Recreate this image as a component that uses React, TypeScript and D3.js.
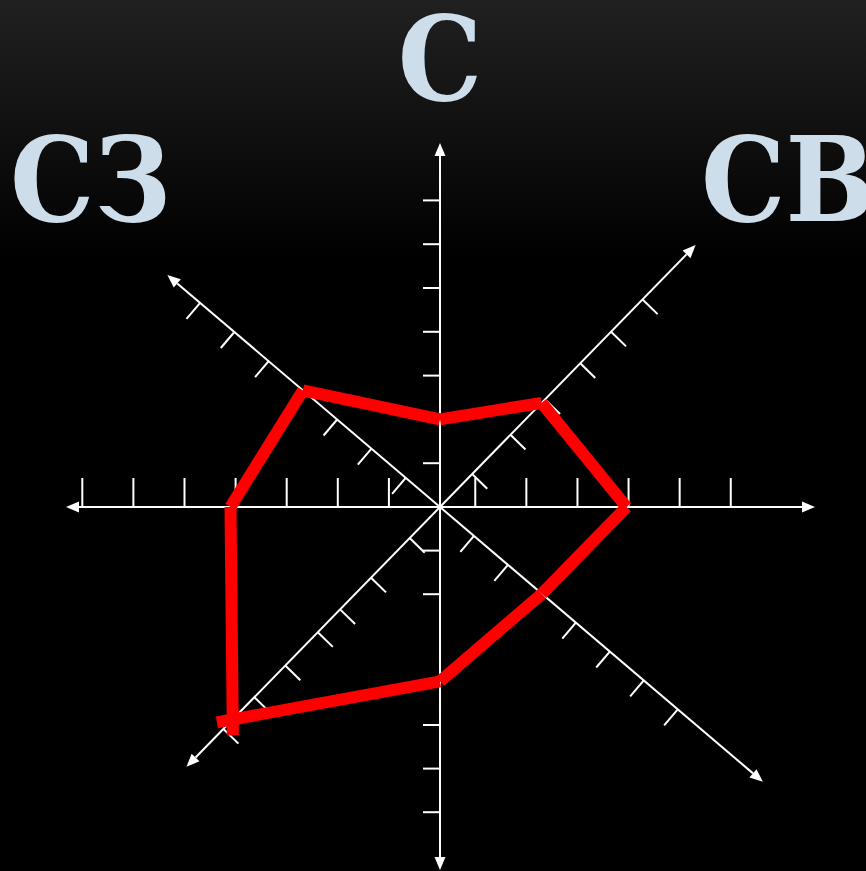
import React from 'react';
import * as d3 from 'd3';

// wind rose: 8 directions, clockwise from north
const directions = ['С', 'СВ', 'В', 'ЮВ', 'Ю', 'ЮЗ', 'З', 'СЗ'];
const angles = [0, 44.3, 90, 130.4, 180, 224.3, 270, 310.4];
const values = [2, 3, 3.65, 3, 4, 6.7, 4.1, 4];

// tick marks on every half-axis (in divisions)
const ticksN = [1, 2, 3, 4, 5, 6, 7];
const ticksNE = [0.95, 2.08, 3.1, 4.14, 5.05, 5.98];
const ticksE = [0.69, 1.69, 2.69, 3.69, 4.69, 5.69];
const ticksSE = [1, 2, 3, 4, 5, 6, 7];
const ticksS = [1, 2, 4, 5, 6, 7];
const ticksSW = [0.98, 2.23, 3.23, 3.95, 5, 6, 7];
const ticksW = [1, 2, 3, 4, 5, 6, 7];
const ticksNW = [1, 2, 3, 4, 5, 6, 7];
const tickValues = [ticksN, ticksNE, ticksE, ticksSE, ticksS, ticksSW, ticksW, ticksNW];

const shownLabels = ['С', 'СВ', 'СЗ'];

// layout
const W = 866, H = 871;
const cx = 440, cy = 507;
const step = [43.8, 48.5, 51.1, 44.6, 43.6, 44.3, 51.1, 45];
const axisLen = [364, 366, 375, 424, 363, 363, 374, 358];
const tickSide = [-1, 1, -1, 1, 1, -1, 1, -1];
const tickLen = [17, 21, 29, 21, 17, 21, 29, 21];
const overshoot = [0, 0, 0, 0, 0, 16, 0, 0];
const labelPos: Record<string, [number, number, string]> = {
  'С': [440, 100, 'middle'],
  'СВ': [701, 221, 'start'],
  'СЗ': [10, 221, 'start'],
};

export default function App() {
  const scales = directions.map((d, i) =>
    d3.scaleLinear().domain([0, 1]).range([0, step[i]])
  );
  const unit = (i: number): [number, number] => {
    const a = (angles[i] * Math.PI) / 180;
    return [Math.sin(a), -Math.cos(a)];
  };
  const at = (i: number, r: number): [number, number] => {
    const [ux, uy] = unit(i);
    return [cx + ux * r, cy + uy * r];
  };

  const axes = directions.map((d, i) => {
    const [ux, uy] = unit(i);
    const [ex, ey] = at(i, axisLen[i]);
    const [bx, by] = at(i, axisLen[i] - 13);
    const px = -uy, py = ux;
    const head = `M${ex},${ey}L${bx + px * 5.5},${by + py * 5.5}L${bx - px * 5.5},${by - py * 5.5}Z`;
    // perpendicular (clockwise) is (-uy, ux), flipped by tickSide
    const s = tickSide[i];
    const qx = -uy * s, qy = ux * s;
    const ticks = tickValues[i].map((v) => {
      const [x0, y0] = at(i, scales[i](v));
      return { x1: x0, y1: y0, x2: x0 + qx * tickLen[i], y2: y0 + qy * tickLen[i] };
    });
    return { d, line: { x2: bx, y2: by }, head, ticks };
  });

  const pts = values.map((v, i) => at(i, scales[i](v)));
  const segs = pts.map((p, i) => {
    const j = (i + 1) % pts.length;
    const q = pts[j];
    const dx = q[0] - p[0], dy = q[1] - p[1];
    const len = Math.hypot(dx, dy);
    const ex = dx / len, ey = dy / len;
    return {
      x1: p[0] - ex * overshoot[i], y1: p[1] - ey * overshoot[i],
      x2: q[0] + ex * overshoot[j], y2: q[1] + ey * overshoot[j],
    };
  });

  return (
    <svg width={W} height={H} style={{ position: 'absolute', left: 0, top: 0, display: 'block' }}>
      <defs>
        <linearGradient id="bg" x1="0" y1="0" x2="0" y2="1">
          <stop offset="0" stopColor="#202020" />
          <stop offset="0.3" stopColor="#000000" />
          <stop offset="1" stopColor="#000000" />
        </linearGradient>
      </defs>
      <rect width={W} height={H} fill="url(#bg)" />
      <g stroke="#ffffff" strokeWidth={2}>
        {axes.map((a) => (
          <g key={a.d}>
            <line x1={cx} y1={cy} x2={a.line.x2} y2={a.line.y2} />
            {a.ticks.map((t, k) => (
              <line key={k} {...t} />
            ))}
            <path d={a.head} fill="#ffffff" stroke="none" />
          </g>
        ))}
      </g>
      <g stroke="#ff0000" strokeWidth={12} strokeLinecap="butt">
        {segs.map((s, i) => (
          <line key={i} {...s} />
        ))}
      </g>
      <g fill="#cddde9" fontFamily="'DejaVu Serif Condensed', 'DejaVu Serif', serif" fontWeight="bold" fontSize={118}>
        {shownLabels.map((l) => (
          <text key={l} x={labelPos[l][0]} y={labelPos[l][1]} textAnchor={labelPos[l][2]}>
            {l}
          </text>
        ))}
      </g>
    </svg>
  );
}
